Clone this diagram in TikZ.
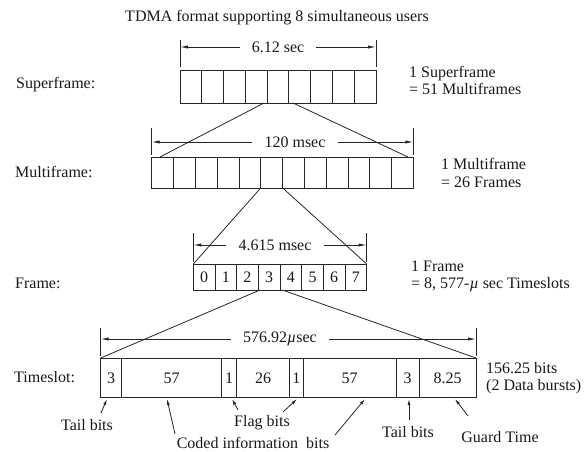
\documentclass[tikz,border=0pt]{standalone}
\usepackage{fontspec}
\setmainfont{Liberation Serif}
\usetikzlibrary{arrows.meta}
\begin{document}
\begin{tikzpicture}[x=1pt,y=-1pt,
  every node/.style={font=\fontsize{16}{17.6}\selectfont, inner sep=0pt, text=black!90},
  ln/.style={line width=0.8pt, draw=black!85},
  dimarrow/.style={ln, -{Latex[length=8pt,width=3.2pt]}},
  notearrow/.style={ln, -{Latex[length=6pt,width=3pt]}},
  dimtext/.style={inner xsep=12pt}
]
\useasboundingbox (0,0) rectangle (587,452);

% Title
\node (title) at (277,18) {TDMA format supporting 8 simultaneous users};

% ---------- Superframe ----------
\node[anchor=west] (lsuper) at (16,85) {Superframe:};
\draw[ln] (180,70) rectangle (376,103);
\foreach \i in {1,...,8} \draw[ln] ({180+\i*196/9},70) -- ({180+\i*196/9},103);
\coordinate (sTL) at (180,40); \coordinate (sBL) at (180,67);
\coordinate (sTR) at (376,40); \coordinate (sBR) at (376,67);
\draw[ln] (sTL) -- (sBL); \draw[ln] (sTR) -- (sBR);
\node[dimtext] (dsuper) at (278,47) {6.12 sec};
\coordinate (sAL) at (180,47); \coordinate (sAR) at (376,47);
\draw[dimarrow] (dsuper.west) -- (sAL);
\draw[dimarrow] (dsuper.east) -- (sAR);
\node[anchor=west, align=left] (rsuper) at (409,80.5) {1 Superframe\\= 51 Multiframes};

% ---------- Multiframe ----------
\node[anchor=west] (lmulti) at (15,172) {Multiframe:};
\draw[ln] (151.7,157) rectangle (413.3,188);
\foreach \i in {1,...,11} \draw[ln] ({151.7+\i*261.6/12},157) -- ({151.7+\i*261.6/12},188);
\coordinate (mTL) at (151.7,128); \coordinate (mBL) at (151.7,155);
\coordinate (mTR) at (413.3,128); \coordinate (mBR) at (413.3,155);
\draw[ln] (mTL) -- (mBL); \draw[ln] (mTR) -- (mBR);
\node[dimtext] (dmulti) at (295,142) {120 msec};
\coordinate (mAL) at (151.7,142); \coordinate (mAR) at (413.3,142);
\draw[dimarrow] (dmulti.west) -- (mAL);
\draw[dimarrow] (dmulti.east) -- (mAR);
\node[anchor=west, align=left] (rmulti) at (441,173) {1 Multiframe\\= 26 Frames};

% zoom lines superframe -> multiframe
\coordinate (s1) at (264,103); \coordinate (s2) at (293,103);
\coordinate (m1) at (160,157); \coordinate (m2) at (408,157);
\draw[ln] (s1) -- (m1);
\draw[ln] (s2) -- (m2);

% ---------- Frame ----------
\node[anchor=west] (lframe) at (15,283) {Frame:};
\draw[ln] (193.3,264) rectangle (366.7,290);
\foreach \i in {1,...,7} \draw[ln] ({193.3+\i*173.4/8},264) -- ({193.3+\i*173.4/8},290);
\foreach \i in {0,...,7} \node (f\i) at ({193.3+(\i+0.5)*173.4/8},277.5) {\i};
\coordinate (fTL) at (193.3,233); \coordinate (fBL) at (193.3,262);
\coordinate (fTR) at (366.7,233); \coordinate (fBR) at (366.7,262);
\draw[ln] (fTL) -- (fBL); \draw[ln] (fTR) -- (fBR);
\node[dimtext] (dframe) at (275,245) {4.615 msec};
\coordinate (fAL) at (193.3,245); \coordinate (fAR) at (366.7,245);
\draw[dimarrow] (dframe.west) -- (fAL);
\draw[dimarrow] (dframe.east) -- (fAR);
\node[anchor=west, align=left] (rframe) at (411,276.5) {1 Frame\\= 8, 577-{\itshape µ} sec Timeslots};

% zoom lines multiframe -> frame
\coordinate (m3) at (260.7,188); \coordinate (m4) at (282.7,188);
\coordinate (f1) at (193.3,264); \coordinate (f2) at (366.7,264);
\draw[ln] (m3) -- (f1);
\draw[ln] (m4) -- (f2);

% ---------- Timeslot ----------
\node[anchor=west] (lslot) at (14,377) {Timeslot:};
\draw[ln] (100.7,358) rectangle (476,397);
\foreach \x in {121.7,221.7,236.7,289.3,303.3,396,419.3} \draw[ln] (\x,358) -- (\x,397);
\node (c1) at (111.2,378) {3};
\node (c2) at (171.7,378) {57};
\node (c3) at (229.2,378) {1};
\node (c4) at (263,378) {26};
\node (c5) at (296.3,378) {1};
\node (c6) at (349.6,378) {57};
\node (c7) at (407.6,378) {3};
\node (c8) at (447.6,378) {8.25};
\coordinate (tTL) at (100.7,328); \coordinate (tBL) at (100.7,356);
\coordinate (tTR) at (476,328); \coordinate (tBR) at (476,356);
\draw[ln] (tTL) -- (tBL); \draw[ln] (tTR) -- (tBR);
\node[dimtext] (dslot) at (280,339) {576.92{\itshape µ}sec};
\coordinate (tAL) at (100.7,339); \coordinate (tAR) at (476,339);
\draw[dimarrow] (dslot.west) -- (tAL);
\draw[dimarrow] (dslot.east) -- (tAR);
\node[anchor=west, align=left] (rslot) at (486,378) {156.25 bits\\(2 Data bursts)};

% zoom lines frame -> timeslot
\coordinate (f3) at (260,290); \coordinate (f4) at (282.3,290);
\coordinate (t1) at (100.7,358); \coordinate (t2) at (476,358);
\draw[ln] (f3) -- (t1);
\draw[ln] (f4) -- (t2);

% ---------- annotations ----------
\node (tail1) at (87,425) {Tail bits};
\node (flag) at (262,423) {Flag bits};
\node (coded) at (253,443) {Coded information\ \ bits};
\node (tail2) at (408,432) {Tail bits};
\node (guard) at (500,437) {Guard Time};

\coordinate (a1s) at (101,413); \coordinate (a1e) at (107,399);
\coordinate (a2s) at (175,434); \coordinate (a2e) at (167,399);
\coordinate (a3s) at (238,410); \coordinate (a3e) at (232,399);
\coordinate (a4s) at (283,412); \coordinate (a4e) at (297,399);
\coordinate (a5s) at (335,435); \coordinate (a5e) at (365,399);
\coordinate (a6s) at (409,420); \coordinate (a6e) at (409,399);
\coordinate (a7s) at (468,416); \coordinate (a7e) at (455,399);
\foreach \k in {1,...,7} \draw[notearrow] (a\k s) -- (a\k e);
\end{tikzpicture}
\end{document}
